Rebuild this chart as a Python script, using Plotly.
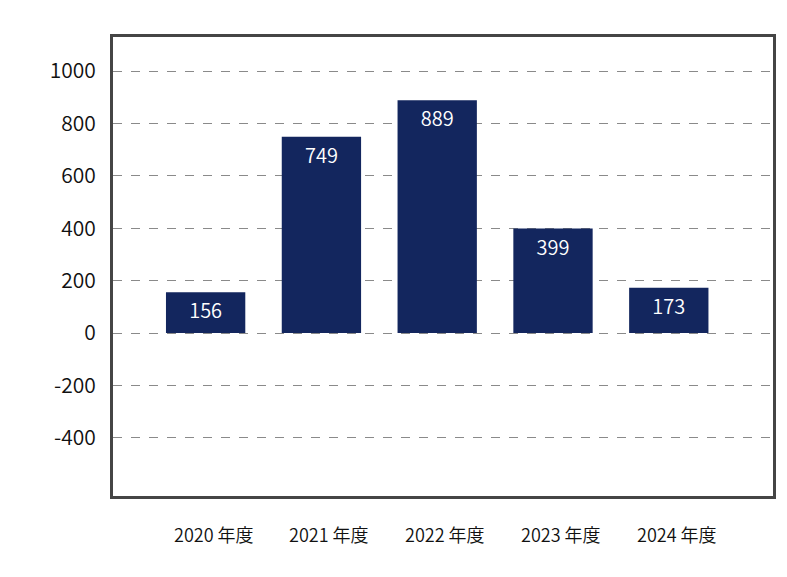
import plotly.graph_objects as go

categories = ["2020 年度", "2021 年度", "2022 年度", "2023 年度", "2024 年度"]
values = [156, 749, 889, 399, 173]
ytick_vals = [-400, -200, 0, 200, 400, 600, 800, 1000]
ytick_text = ["-400", "-200", "0", "200", "400", "600", "800", "1000"]

FONT = "Noto Sans CJK JP, sans-serif"
xpos = list(range(len(categories)))

fig = go.Figure()
fig.add_trace(go.Bar(
    x=xpos, y=values, width=0.685,
    marker=dict(color="#13265e", line=dict(width=0)),
    text=[str(v) for v in values], textposition="inside",
    insidetextanchor="end",
    textfont=dict(color="white", size=20, family=FONT, weight=350),
    hoverinfo="skip",
))

for i, c in zip(xpos, categories):
    fig.add_annotation(x=i, y=0, xref="x", yref="paper", text=c,
                       showarrow=False, yanchor="top", xshift=8, yshift=-23,
                       font=dict(size=18, color="#111", family=FONT, weight=350))

fig.update_layout(
    width=787, height=577,
    margin=dict(l=113, r=14, t=37, b=81),
    plot_bgcolor="white", paper_bgcolor="white",
    showlegend=False,
    bargap=0.3,
)
fig.update_xaxes(range=[-0.8, 4.9], showticklabels=False, showgrid=False,
                 zeroline=False, showline=True, mirror=True,
                 linecolor="#454545", linewidth=3)
fig.update_yaxes(range=[-622, 1130], tickvals=ytick_vals, ticktext=ytick_text,
                 showgrid=True, gridcolor="#8a8a8a", griddash="dash", gridwidth=1.3,
                 zeroline=False, showline=True, mirror=True,
                 linecolor="#454545", linewidth=3, layer="above traces",
                 ticks="", ticklabelstandoff=10,
                 tickfont=dict(size=21, color="#111", family=FONT, weight=350))

fig.write_html("out.html")
